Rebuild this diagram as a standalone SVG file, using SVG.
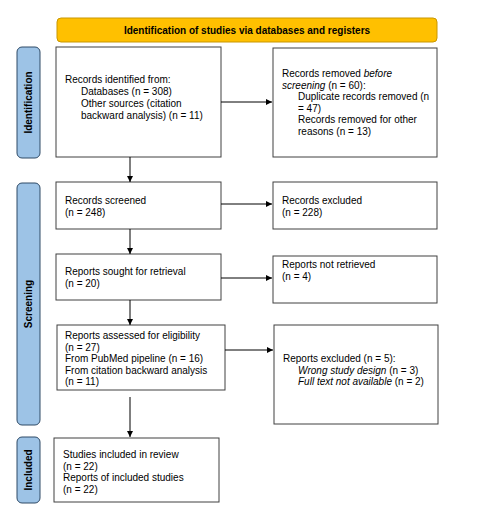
<svg xmlns="http://www.w3.org/2000/svg" width="491" height="510" viewBox="0 0 491 510">
<style>
text{font-family:"Liberation Sans",Arial,sans-serif;font-size:10px;fill:#000}
.b{font-weight:bold}
.box{fill:#fff;stroke:#404040;stroke-width:1}
.side{fill:#9DC3E6;stroke:#2E4A66;stroke-width:1}
.hdr{fill:#FFC000;stroke:#C99700;stroke-width:1}
.ln{stroke:#000;stroke-width:1;fill:none}
</style>
<defs>
<marker id="ah" viewBox="0 0 10 10" refX="10" refY="5" markerWidth="6" markerHeight="6" orient="auto" markerUnits="userSpaceOnUse">
<path d="M0,0 L10,5 L0,10 z" fill="#000"/>
</marker>
</defs>
<rect width="491" height="510" fill="#fff"/>
<g id="header">
<rect class="hdr" x="57" y="18" width="380" height="24" rx="4"/>
<text class="b" x="247" y="33.5" text-anchor="middle">Identification of studies via databases and registers</text>
</g>
<g id="side-identification">
<rect class="side" x="17" y="47" width="23" height="111" rx="5"/>
<text class="b" transform="translate(32,102.5) rotate(-90)" text-anchor="middle">Identification</text>
</g>
<g id="side-screening">
<rect class="side" x="17" y="183" width="23" height="242" rx="5"/>
<text class="b" transform="translate(32,304) rotate(-90)" text-anchor="middle">Screening</text>
</g>
<g id="side-included">
<rect class="side" x="17" y="437" width="23" height="66" rx="5"/>
<text class="b" transform="translate(32,470) rotate(-90)" text-anchor="middle">Included</text>
</g>
<g id="records-identified">
<rect class="box" x="56" y="47" width="165" height="110"/>
<text x="65" y="83">Records identified from:</text>
<text x="81" y="95">Databases (n = 308)</text>
<text x="81" y="107">Other sources (citation</text>
<text x="81" y="118.5">backward analysis) (n = 11)</text>
</g>
<g id="records-removed">
<rect class="box" x="273" y="48" width="164" height="109"/>
<text x="282" y="77">Records removed <tspan font-style="italic">before</tspan></text>
<text x="282" y="88.5"><tspan font-style="italic">screening</tspan> (n = 60):</text>
<text x="298" y="100">Duplicate records removed (n</text>
<text x="298" y="111.5">= 47)</text>
<text x="298" y="123">Records removed for other</text>
<text x="298" y="134.5">reasons (n = 13)</text>
</g>
<g id="records-screened">
<rect class="box" x="56" y="182" width="165" height="47"/>
<text x="65" y="204">Records screened</text>
<text x="65" y="216">(n = 248)</text>
</g>
<g id="records-excluded">
<rect class="box" x="273" y="182" width="164" height="47"/>
<text x="282" y="204">Records excluded</text>
<text x="282" y="216">(n = 228)</text>
</g>
<g id="reports-sought">
<rect class="box" x="56" y="254" width="165" height="46"/>
<text x="65" y="275">Reports sought for retrieval</text>
<text x="65" y="287">(n = 20)</text>
</g>
<g id="reports-not-retrieved">
<rect class="box" x="273" y="256" width="164" height="47"/>
<text x="282" y="268">Reports not retrieved</text>
<text x="282" y="280">(n = 4)</text>
</g>
<g id="reports-assessed">
<rect class="box" x="57" y="325" width="168" height="65"/>
<text x="65" y="339">Reports assessed for eligibility</text>
<text x="65" y="350.5">(n = 27)</text>
<text x="65" y="362">From PubMed pipeline (n = 16)</text>
<text x="65" y="373.5">From citation backward analysis</text>
<text x="65" y="385">(n = 11)</text>
</g>
<g id="reports-excluded">
<rect class="box" x="274" y="325" width="164" height="99"/>
<text x="283" y="362">Reports excluded (n = 5):</text>
<text x="298" y="373.5"><tspan font-style="italic">Wrong study design</tspan> (n = 3)</text>
<text x="298" y="385"><tspan font-style="italic">Full text not available</tspan> (n = 2)</text>
</g>
<g id="studies-included">
<rect class="box" x="54" y="438" width="165" height="64"/>
<text x="63" y="458">Studies included in review</text>
<text x="63" y="469.5">(n = 22)</text>
<text x="63" y="481">Reports of included studies</text>
<text x="63" y="492.5">(n = 22)</text>
</g>
<g id="connectors">
<line class="ln" x1="221" y1="102" x2="272" y2="102" marker-end="url(#ah)"/>
<line class="ln" x1="130" y1="157" x2="130" y2="182" marker-end="url(#ah)"/>
<line class="ln" x1="221" y1="204" x2="272" y2="204" marker-end="url(#ah)"/>
<line class="ln" x1="130" y1="229" x2="130" y2="254" marker-end="url(#ah)"/>
<line class="ln" x1="221" y1="278" x2="272" y2="278" marker-end="url(#ah)"/>
<line class="ln" x1="130" y1="300" x2="130" y2="325" marker-end="url(#ah)"/>
<line class="ln" x1="225" y1="350" x2="273" y2="350" marker-end="url(#ah)"/>
<line class="ln" x1="130" y1="397" x2="130" y2="437" marker-end="url(#ah)"/>
</g>
</svg>
